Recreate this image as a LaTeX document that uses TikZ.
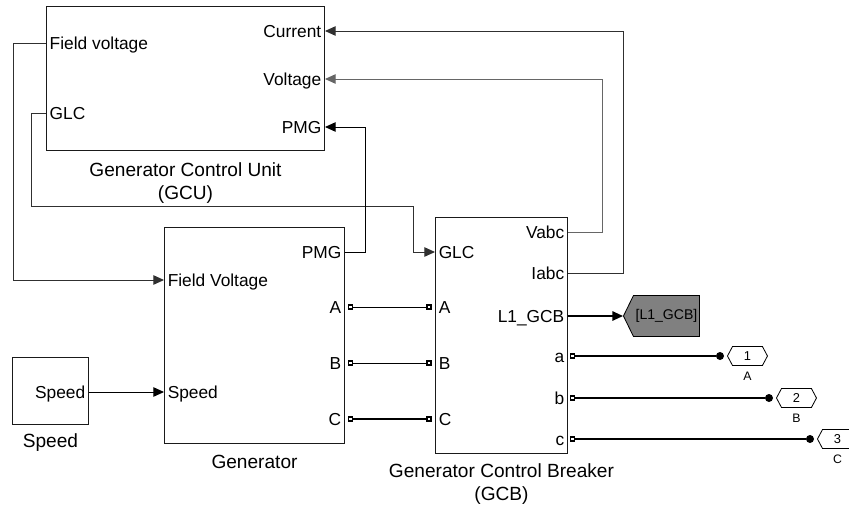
\documentclass[tikz,border=0pt]{standalone}
\usepackage{fontspec}
\setmainfont{Liberation Sans}
\usepackage{xcolor,tikz}
\usetikzlibrary{positioning,calc,arrows.meta,shapes.symbols}
\definecolor{slkLine}{HTML}{1A1A1A}
\definecolor{slkGreyLine}{HTML}{303030}
\definecolor{slkGotoFill}{HTML}{808080}

\def\pxu{0.03cm}        % one pixel of the reference

\tikzset{
  blockbox/.style={draw=slkLine, line width=0.85pt, anchor=north west, inner sep=0pt},
  portL/.style={anchor=west, inner xsep=3pt, inner ysep=0pt, text height=10.4pt, text depth=0pt,
    font=\fontsize{14.8}{16}\selectfont},
  portR/.style={portL, anchor=east},
  namelbl/.style={align=center, inner sep=0pt, font=\fontsize{16.3}{19.5}\selectfont},
  cport/.style={draw=black, fill=white, line width=1.2pt, minimum size=4*\pxu, inner sep=0pt},
  termdot/.style={circle, fill=black, minimum size=8*\pxu, inner sep=0pt},
  sigwire/.style={draw=slkGreyLine, line width=0.85pt},
  sigarrow/.style={sigwire, -{Triangle[length=9pt,width=8pt]}},
  phwire/.style={draw=black, line width=0.85pt},
  phthick/.style={draw=black, line width=1.6pt},
  outport/.style={shape=signal, signal from=nowhere, signal to=west and east, signal pointer angle=124,
    draw=black, line width=0.7pt, fill=white, minimum width=40*\pxu, minimum height=19*\pxu,
    inner sep=0pt, font=\fontsize{11}{12}\selectfont},
  outlbl/.style={inner sep=0pt, font=\fontsize{10.5}{12}\selectfont},
  gototag/.style={shape=signal, signal from=nowhere, signal to=west, signal pointer angle=128,
    draw=black, line width=0.7pt, fill=slkGotoFill, minimum width=76*\pxu, minimum height=41*\pxu,
    inner sep=1pt, font=\fontsize{12}{13}\selectfont}
}

\begin{document}
\begin{tikzpicture}[x=\pxu, y=-\pxu]

\useasboundingbox (0,0) rectangle (849,504);
\clip (0,0) rectangle (849,504);
\fill[white] (0,0) rectangle (849,504);

% --- BLOCKS ---
\node[blockbox, minimum width=278*\pxu, minimum height=144*\pxu] (gcu) at (46,6) {};
\node[blockbox, minimum width=180*\pxu, minimum height=216*\pxu] (gen) at (164,227) {};
\node[blockbox, minimum width=132*\pxu, minimum height=236*\pxu] (gcb) at (435,217) {};
\node[blockbox, minimum width=76*\pxu, minimum height=67*\pxu] (spd) at (12,357) {};

% --- PORT LABELS ---
\foreach \nm/\yy/\txt in {gcuFv/43/Field voltage, gcuGlc/113/GLC}
  \node[portL] (\nm) at (gcu.west |- 0,\yy) {\txt};
\foreach \nm/\yy/\txt in {gcuCur/31/Current, gcuVolt/79/Voltage, gcuPmg/127/PMG}
  \node[portR] (\nm) at (gcu.east |- 0,\yy) {\txt};
\foreach \nm/\yy/\txt in {genFv/280/Field Voltage, genSpd/392/Speed}
  \node[portL] (\nm) at (gen.west |- 0,\yy) {\txt};
\foreach \nm/\yy/\txt in {genPmg/252/PMG, genA/307/A, genB/363/B, genC/419/C}
  \node[portR] (\nm) at (gen.east |- 0,\yy) {\txt};
\foreach \nm/\yy/\txt in {gcbGlc/252/GLC, gcbA/307/A, gcbB/363/B, gcbC/419/C}
  \node[portL] (\nm) at (gcb.west |- 0,\yy) {\txt};
\foreach \nm/\yy/\txt in {gcbVabc/232/Vabc, gcbIabc/273/Iabc, gcbL1/316/L1\_GCB,
                          gcbLa/356/a, gcbLb/398/b, gcbLc/439/c}
  \node[portR] (\nm) at (gcb.east |- 0,\yy) {\txt};
\node[portR] (spdOut) at (spd.east |- 0,392) {Speed};

% --- BLOCK NAMES ---
\node[namelbl, below=10pt of gcu] (gcuName) {Generator Control Unit\\(GCU)};
\node[namelbl, below=9pt of gen] (genName) {Generator};
\node[namelbl, below=8pt of gcb] (gcbName) {Generator Control Breaker\\(GCB)};
\node[namelbl, below=7pt of spd] (spdName) {Speed};

% --- PHYSICAL PORTS (squares) ---
\foreach \ph in {A,B,C} {
  \node[cport, anchor=west] (genP\ph) at ([xshift=3*\pxu]gen\ph.east) {};
  \node[cport, anchor=east] (gcbP\ph) at ([xshift=-3.5*\pxu]gcb\ph.west) {};
}
\foreach \ph in {a,b,c}
  \node[cport, anchor=west] (gcbP\ph) at ([xshift=2*\pxu]gcbL\ph.east) {};

% --- TERMINALS AND OUTPORTS ---
\node[termdot] (dotA) at (720,356) {};
\node[termdot] (dotB) at (769,398) {};
\node[termdot] (dotC) at (810,439) {};
\foreach \k/\n in {A/1, B/2, C/3} {
  \node[outport, anchor=west] (out\k) at ([xshift=7*\pxu]dot\k.center) {\n};
  \node[outlbl, below=5pt of out\k] (lbl\k) {\k};
}
\node[gototag, anchor=west] (gotoL1) at ([xshift=55*\pxu]gcbL1.east) {[L1\_GCB]};

% --- SIGNAL WIRES ---
\coordinate (glcLane) at (31,206);
\draw[sigarrow] (gcuFv.west) -- ++(-33,0) |- (genFv.west);
\draw[sigarrow] (gcuGlc.west) -| (glcLane) -| ([xshift=-22*\pxu]gcbGlc.west) -- (gcbGlc.west);
\draw[sigarrow, draw=black] (genPmg.east) -- ++(20,0) |- (gcuPmg.east);
\draw[sigarrow, draw=black!60] (gcbVabc.east) -- ++(34,0) |- (gcuVolt.east);
\draw[sigarrow] (gcbIabc.east) -- ++(55,0) |- (gcuCur.east);
\draw[sigarrow, draw=black] (spdOut.east) -- (genSpd.west);
\draw[sigarrow, draw=black, line width=1.2pt] (gcbL1.east) -- (gotoL1.west);

% --- PHASE WIRES ---
\draw[phwire] (genPA.east) -- (gcbPA.west);
\draw[phwire] (genPB.east) -- (gcbPB.west);
\draw[phthick] (genPC.east) -- (gcbPC.west);
\draw[phthick] (gcbPa.east) -- (dotA);
\draw[phthick] (gcbPb.east) -- (dotB);
\draw[phthick] (gcbPc.east) -- (dotC);

\end{tikzpicture}
\end{document}
